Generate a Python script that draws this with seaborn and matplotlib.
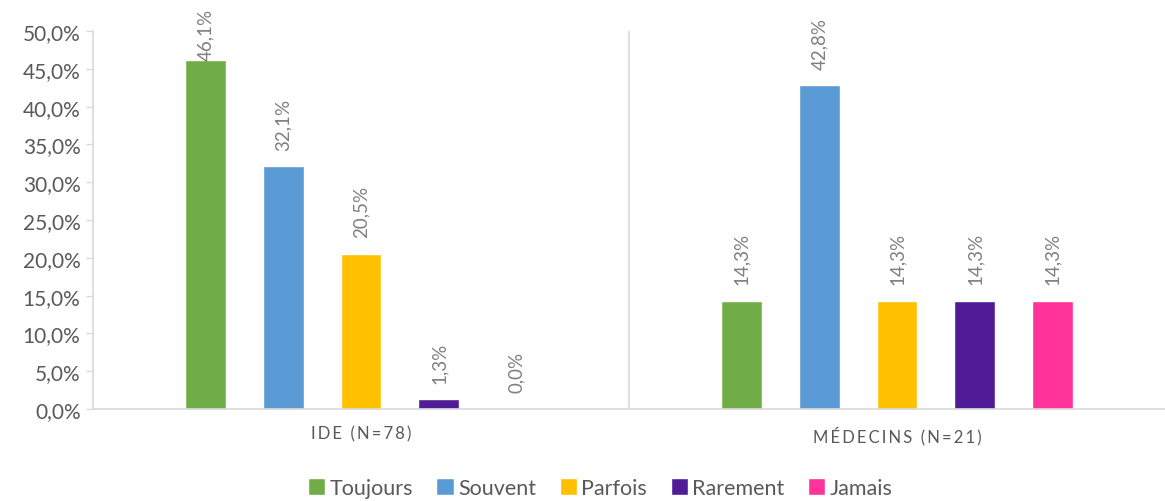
import matplotlib
matplotlib.use("Agg")
import matplotlib.pyplot as plt
from matplotlib.ticker import FuncFormatter
from matplotlib.patches import Patch
import pandas as pd
import seaborn as sns

groups = ["IDE (N=78)", "MÉDECINS (N=21)"]
responses = ["Toujours", "Souvent", "Parfois", "Rarement", "Jamais"]
ide = [46.1, 32.1, 20.5, 1.3, 0.0]
medecins = [14.3, 42.8, 14.3, 14.3, 14.3]
colors = ["#70AD47", "#5B9BD5", "#FFC000", "#501C96", "#FF3399"]

rows = []
for g, vals in zip(groups, [ide, medecins]):
    for r, v in zip(responses, vals):
        rows.append([g, r, v])
df = pd.DataFrame(rows, columns=["Groupe", "Reponse", "Pct"])

sns.set_style("white")
plt.rcParams["font.family"] = ["Lato", "DejaVu Sans"]

fig = plt.figure(figsize=(11.65, 5.02), dpi=100)
ax = fig.add_axes([93 / 1165, 1 - 410 / 502, 1 - 93 / 1165, (410 - 32) / 502])

sns.barplot(data=df, x="Groupe", y="Pct", hue="Reponse", order=groups,
            hue_order=responses, palette=colors, width=0.726, gap=0.474,
            saturation=1, legend=False, ax=ax)

ax.set_ylim(0, 50)
ax.set_xlim(-0.5, 1.5)
ax.set_yticks(range(0, 51, 5))
ax.yaxis.set_major_formatter(FuncFormatter(lambda v, p: f"{v:.1f}%".replace(".", ",")))
ax.tick_params(axis="y", labelsize=15, labelcolor="#595959", length=5,
               color="#D9D9D9", width=1, left=True, pad=4)
# espacement des lettres façon Excel
ax.set_xticks([0, 1])
ax.set_xticklabels(["\u2009".join(g) for g in groups])
ax.tick_params(axis="x", labelsize=12, labelcolor="#595959", length=0, pad=12)
ax.set_xlabel("")
ax.set_ylabel("")
for s in ["top", "right"]:
    ax.spines[s].set_visible(False)
for s in ["left", "bottom"]:
    ax.spines[s].set_color("#D9D9D9")
    ax.spines[s].set_linewidth(1.2)
ax.axvline(0.5, color="#D9D9D9", lw=1.2)

for cont in ax.containers:
    for bar in cont:
        h = bar.get_height()
        off = 12 if h < 45 else 0
        ax.annotate(f"{h:.1f}%".replace(".", ","),
                    (bar.get_x() + bar.get_width() / 2, h),
                    xytext=(0, off), textcoords="offset points",
                    rotation=90, ha="center", va="bottom",
                    fontsize=13.5, color="#7F7F7F", annotation_clip=False)

handles = [Patch(facecolor=c, label=r) for r, c in zip(responses, colors)]
fig.legend(handles=handles, loc="center", bbox_to_anchor=(600 / 1165, 13 / 502),
           ncol=5, frameon=False, fontsize=15.5, handlelength=0.8,
           handleheight=0.8, handletextpad=0.2, columnspacing=1.1,
           labelcolor="#595959")

fig.savefig("out.png", dpi=100)
